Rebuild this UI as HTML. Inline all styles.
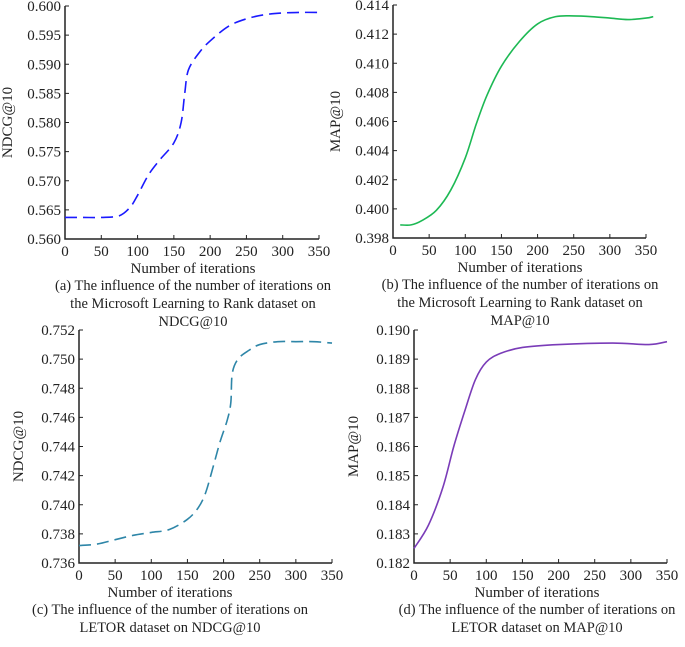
<!DOCTYPE html>
<html><head><meta charset="utf-8"><style>
body{margin:0;background:#fff;}
svg text{font-family:"Liberation Serif",serif;fill:#222;}
</style></head><body>
<svg id="c" width="685" height="642" viewBox="0 0 685 642" xmlns="http://www.w3.org/2000/svg"></svg>
<script>
const xA=[0,25,50,75,90,100,115,130,150,160,165,170,185,200,225,250,275,300,325,350];
const yA=[.5637,.5637,.5637,.5640,.5655,.5675,.5710,.5735,.5765,.580,.585,.589,.592,.594,.5965,.5978,.5985,.5988,.5989,.5989];
const xB=[10,25,40,60,80,100,115,130,150,175,200,225,250,275,300,325,350,360];
const yB=[.3989,.3989,.3992,.3999,.4013,.4035,.4058,.4078,.4098,.4115,.4127,.4132,.41325,.4132,.4131,.4130,.4131,.4132];
const xC=[0,25,50,75,100,125,150,165,175,185,195,205,210,212,220,235,250,275,300,325,350];
const yC=[.7372,.7373,.7376,.7379,.7381,.7383,.7390,.7398,.7408,.7425,.7443,.7458,.7470,.7490,.7500,.7506,.7510,.7512,.7512,.7512,.7511];
const xD=[0,20,40,55,70,85,100,120,150,200,275,325,350];
const yD=[.1825,.1833,.1846,.1860,.1872,.1883,.1889,.1892,.1894,.1895,.18955,.1895,.1896];
const xTicks=[0,50,100,150,200,250,300,350];
const ticksA=["0.560","0.565","0.570","0.575","0.580","0.585","0.590","0.595","0.600"];
const ticksB=["0.398","0.400","0.402","0.404","0.406","0.408","0.410","0.412","0.414"];
const ticksC=["0.736","0.738","0.740","0.742","0.744","0.746","0.748","0.750","0.752"];
const ticksD=["0.182","0.183","0.184","0.185","0.186","0.187","0.188","0.189","0.190"];
const NS="http://www.w3.org/2000/svg";
const svg=document.getElementById('c');
function mk(t,a,p){const e=document.createElementNS(NS,t);for(const k in a)e.setAttribute(k,a[k]);(p||svg).appendChild(e);return e;}
function panel(o){
  const g=mk('g',{});
  
  
  const ymin=+o.ticks[0],ymax=+o.ticks[o.ticks.length-1];
  const sx=v=>o.x0+(v/350)*(o.x1-o.x0);
  const sy=v=>o.yb-(v-ymin)/(ymax-ymin)*(o.yb-o.yt);
  const ax=mk('path',{d:`M${o.x0},${o.yt}V${o.yb}H${o.x1}`,stroke:'#222','stroke-width':1.5,fill:'none'},g);
  
  
  o.ticks.forEach(t=>{const y=sy(+t);mk('line',{x1:o.x0,x2:o.x0+4,y1:y,y2:y,stroke:'#222'},g);
    const tx=mk('text',{x:o.x0-4,y:y+5,'text-anchor':'end','font-size':15},g);tx.textContent=t;
    
    });
  xTicks.forEach(t=>{const x=sx(t);mk('line',{x1:x,x2:x,y1:o.yb,y2:o.yb-4,stroke:'#222'},g);
    const tx=mk('text',{x:x,y:o.yb+17,'text-anchor':'middle','font-size':15},g);tx.textContent=t;
    
    });
  const yl=mk('text',{transform:`translate(${o.ylx},${(o.yt+o.yb)/2}) rotate(-90)`,'text-anchor':'middle','font-size':15},g);yl.textContent=o.ylabel;
  
  
  const xl=mk('text',{x:o.capx,y:o.yb+34,'text-anchor':'middle','font-size':15},g);xl.textContent='Number of iterations';
  
  
  o.cap.forEach((c,i)=>{const t=mk('text',{x:o.capx,y:o.yb+51+i*18,'text-anchor':'middle','font-size':14.5},g);t.textContent=c;
    
    });
  const P=o.xs.map((v,i)=>[sx(v),sy(o.ys[i])]);
  let d=`M${P[0][0]},${P[0][1]}`;
  for(let i=0;i<P.length-1;i++){const p0=P[Math.max(0,i-1)],p1=P[i],p2=P[i+1],p3=P[Math.min(P.length-1,i+2)];
    d+=`C${p1[0]+(p2[0]-p0[0])/6},${p1[1]+(p2[1]-p0[1])/6} ${p2[0]-(p3[0]-p1[0])/6},${p2[1]-(p3[1]-p1[1])/6} ${p2[0]},${p2[1]}`;}
  const ln=mk('path',{d:d,stroke:o.color,'stroke-width':1.6,fill:'none'},g);
  if(o.dash)ln.setAttribute('stroke-dasharray',o.dash);
  
  
}
panel({name:'chart-a',x0:65,x1:319,yt:6,yb:239,ticks:ticksA,xs:xA,ys:yA,color:'#1a1aff',dash:'12 6',ylabel:'NDCG@10',ylx:12,capx:193,
 cap:['(a) The influence of the number of iterations on','the Microsoft Learning to Rank dataset on','NDCG@10']});
panel({name:'chart-b',x0:393,x1:646,yt:5,yb:238,ticks:ticksB,xs:xB,ys:yB,color:'#1db954',dash:null,ylabel:'MAP@10',ylx:340,capx:520,
 cap:['(b) The influence of the number of iterations on','the Microsoft Learning to Rank dataset on','MAP@10']});
panel({name:'chart-c',x0:79,x1:332,yt:330,yb:563,ticks:ticksC,xs:xC,ys:yC,color:'#2e86a8',dash:'12 6',ylabel:'NDCG@10',ylx:23,capx:170,
 cap:['(c) The influence of the number of iterations on','LETOR dataset on NDCG@10']});
panel({name:'chart-d',x0:414,x1:667,yt:330,yb:563,ticks:ticksD,xs:xD,ys:yD,color:'#7a3cb8',dash:null,ylabel:'MAP@10',ylx:358,capx:537,
 cap:['(d) The influence of the number of iterations on','LETOR dataset on MAP@10']});
</script>
</body></html>
